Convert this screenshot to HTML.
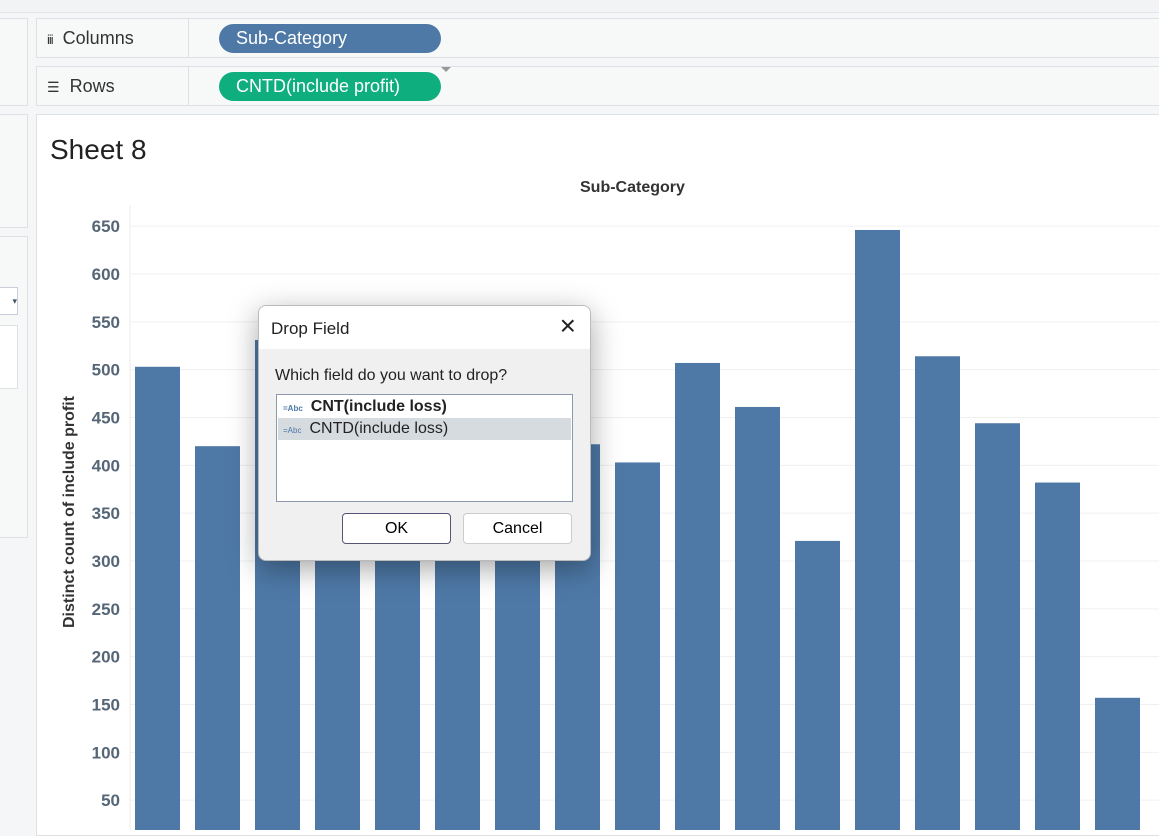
<!DOCTYPE html>
<html><head><meta charset="utf-8"><style>
body{margin:0;width:1159px;height:830px;overflow:hidden;background:#f5f6f7;font-family:"Liberation Sans",sans-serif;position:relative}
.abs{position:absolute}
.shelf{position:absolute;left:36px;width:1130px;height:38px;background:#f7f8f8;border:1px solid #dde1e4}
.shelf .lbl{position:absolute;left:10px;top:9px;font-size:18px;color:#333}
.shelf .div{position:absolute;left:151px;top:0;bottom:0;border-left:1px solid #dde1e4}
.pill{position:absolute;left:182px;top:5px;width:222px;height:29px;border-radius:15px;color:#fff;font-size:18px;line-height:29px;padding-left:17px;box-sizing:border-box}
</style></head><body>
<div class="abs" style="left:0;top:0;width:1159px;height:12px;background:#f2f3f4;border-bottom:1px solid #e3e6e8"></div>
<div class="abs" style="left:-2px;top:18px;width:28px;height:86px;background:#f7f8f8;border:1px solid #dde1e4"></div>
<div class="abs" style="left:-2px;top:114px;width:28px;height:112px;background:#f7f8f8;border:1px solid #dde1e4"></div>
<div class="abs" style="left:-2px;top:236px;width:28px;height:300px;background:#f7f8f8;border:1px solid #dde1e4"></div>
<div class="abs" style="left:-2px;top:287px;width:18px;height:26px;background:#fff;border:1px solid #ccd;font-size:9px;color:#456;line-height:26px;text-align:right">▾</div>
<div class="abs" style="left:-2px;top:325px;width:18px;height:62px;background:#fff;border:1px solid #dde1e4"></div>
<div class="shelf" style="top:18px">
<span class="lbl"><span style="font-size:13px;letter-spacing:-1px">iii</span>&nbsp; Columns</span><div class="div"></div>
<div class="pill" style="background:#4e79a7">Sub-Category</div></div>
<div class="shelf" style="top:66px">
<span class="lbl"><span style="font-size:14px">☰</span>&nbsp; Rows</span><div class="div"></div>
<div class="pill" style="background:#0fae7f">CNTD(include profit)</div>
<div class="abs" style="left:404px;top:0;width:0;height:0;border-left:5px solid transparent;border-right:5px solid transparent;border-top:5px solid #999"></div></div>
<div class="abs" style="left:36px;top:114px;width:1130px;height:720px;background:#fff;border:1px solid #dde1e4"></div>
<div class="abs" style="left:50px;top:134px;font-size:28px;color:#222">Sheet 8</div>
<div class="abs" style="left:580px;top:179px;font-size:16px;font-weight:bold;color:#333">Sub-Category</div>
<div class="abs" style="left:70px;top:512px;transform:translate(-50%,-50%) rotate(-90deg);white-space:nowrap;font-size:16px;font-weight:bold;color:#333">Distinct count of include profit</div>
<svg class="abs" id="chart" style="left:0;top:0" width="1159" height="830"></svg>
<div class="abs" style="left:258px;top:305px;width:331px;height:254px;background:#f0f0f0;border:1px solid #bbb;border-radius:8px;box-shadow:0 8px 30px rgba(0,0,0,.35);overflow:hidden">
<div style="height:43px;background:#fff;position:relative">
<span style="position:absolute;left:12px;top:13px;font-size:17px;color:#222">Drop Field</span>
<span style="position:absolute;right:14px;top:4px;font-size:28px;font-weight:100;color:#222">×</span></div>
<div style="position:absolute;left:16px;top:61px;font-size:16px;color:#222">Which field do you want to drop?</div>
<div style="position:absolute;left:17px;top:88px;width:295px;height:106px;background:#fff;border:1px solid #8a9aaa">
<div style="height:23px;line-height:23px;font-size:16px;font-weight:bold;color:#222"><span style="font-size:8px;color:#4e79a7;margin:0 8px 0 6px">=Abc</span>CNT(include loss)</div>
<div style="height:22px;line-height:22px;font-size:16px;color:#222;background:#d6dbe0;margin:0 1px"><span style="font-size:8px;color:#4e79a7;margin:0 8px 0 5px">=Abc</span>CNTD(include loss)</div></div>
<div style="position:absolute;left:83px;top:207px;width:107px;height:29px;background:#fff;border:1px solid #557;border-radius:4px;text-align:center;line-height:29px;font-size:16px">OK</div>
<div style="position:absolute;left:204px;top:207px;width:107px;height:29px;background:#fff;border:1px solid #ccc;border-radius:4px;text-align:center;line-height:29px;font-size:16px">Cancel</div>
</div>
<script>
const categories=["C1","C2","C3","C4","C5","C6","C7","C8","C9","C10","C11","C12","C13","C14","C15","C16","C17"];
const values=[503,420,531,370,360,340,380,422,403,507,461,321,646,514,444,382,157];
const ticks=[50,100,150,200,250,300,350,400,450,500,550,600,650];
const NS="http://www.w3.org/2000/svg";
const svg=document.getElementById('chart');
const y=v=>848-v*0.9567;
const x=i=>135+i*60;
function mk(t,a){const e=document.createElementNS(NS,t);for(const k in a)e.setAttribute(k,a[k]);svg.appendChild(e);return e;}
mk('line',{x1:130,x2:130,y1:205,y2:830,stroke:'#eee'});
ticks.forEach(t=>{
 const g=mk('line',{x1:130,x2:1159,y1:y(t),y2:y(t),stroke:'#f0f0f0'});
 
 
 const tx=mk('text',{x:120,y:y(t)+6,'text-anchor':'end','font-size':17,'font-weight':'bold',fill:'#556677','font-family':'Liberation Sans, sans-serif'});
 tx.textContent=t;
 
 
});
values.forEach((v,i)=>{
 const r=mk('rect',{x:x(i),y:y(v),width:45,height:848-y(v),fill:'#4e79a7'});
 
 
});
</script>
</body></html>
